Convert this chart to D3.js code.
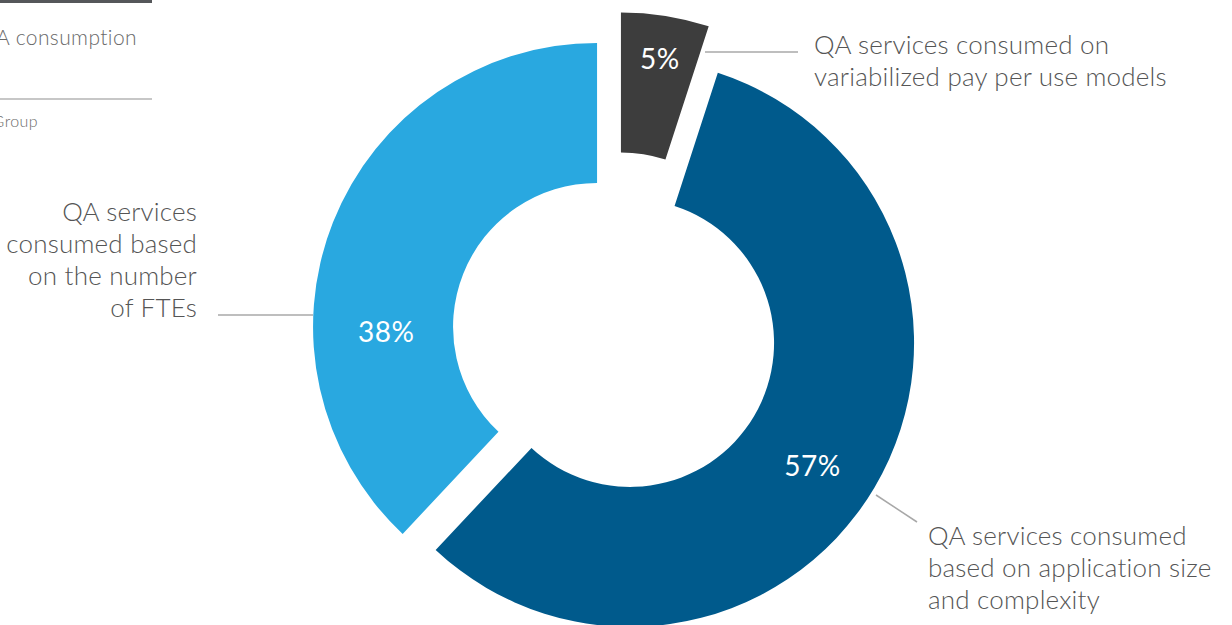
<!DOCTYPE html>
<html>
<head>
<meta charset="utf-8">
<script src="https://cdn.jsdelivr.net/npm/d3@7"></script>
<style>
  body { margin: 0; background: #fff; }
  svg { display: block; }
</style>
</head>
<body>
<svg width="1232" height="625"></svg>
<script>
var svg = d3.select("svg"),
    width = +svg.attr("width"),
    height = +svg.attr("height");

// data
var categories = ["variabilized pay per use", "application size and complexity", "number of FTEs"];
var shares = [5, 57, 38];
var colors = ["#3d3d3d", "#005a8c", "#29a8e0"];
var calloutText = [
  ["QA services consumed on", "variabilized pay per use models"],
  ["QA services consumed", "based on application size", "and complexity"],
  ["QA services", "consumed based", "on the number", "of FTEs"]
];

// layout
var cx = 615, cy = 334, rOuter = 284, rInner = 144;
var explode = [38, 17.5, 19.3];
var labelAngle = [9.3, 124, 268.6];   // degrees, clockwise from 12 o'clock
var labelRadius = [241, 220, 211];

var pie = d3.pie().sort(null).value(function(d) { return d; });
var arcs = pie(shares);
var arc = d3.arc().innerRadius(rInner).outerRadius(rOuter);

// header fragments cut off at the left edge
svg.append("rect").attr("x", 0).attr("y", 0).attr("width", 152).attr("height", 3).attr("fill", "#55575a");
svg.append("text")
    .attr("x", 137).attr("y", 45)
    .attr("text-anchor", "end")
    .style("font-family", "Lato, sans-serif").style("font-weight", 300)
    .style("font-size", "21px").style("letter-spacing", "0.4px").attr("fill", "#6a6a6a")
    .text("QA consumption");
svg.append("line").attr("x1", 0).attr("x2", 152).attr("y1", 99).attr("y2", 99)
    .attr("stroke", "#b5b5b5").attr("stroke-width", 1.5);
svg.append("text")
    .attr("x", 38).attr("y", 127)
    .attr("text-anchor", "end")
    .style("font-family", "Lato, sans-serif").style("font-weight", 300)
    .style("font-size", "16px").style("letter-spacing", "0.4px").attr("fill", "#6a6a6a")
    .text("Source: Everest Group");

var slice = svg.append("g").selectAll("g")
    .data(arcs)
  .enter().append("g")
    .attr("transform", function(d, i) {
      var mid = (d.startAngle + d.endAngle) / 2;
      var x = cx + explode[i] * Math.sin(mid),
          y = cy - explode[i] * Math.cos(mid);
      return "translate(" + x + "," + y + ")";
    });

slice.append("path")
    .attr("d", arc)
    .attr("fill", function(d, i) { return colors[i]; });

slice.append("text")
    .attr("transform", function(d, i) {
      var a = labelAngle[i] * Math.PI / 180;
      return "translate(" + (labelRadius[i] * Math.sin(a)) + "," + (-labelRadius[i] * Math.cos(a)) + ")";
    })
    .attr("text-anchor", "middle")
    .attr("dy", "0.36em")
    .style("font-family", "Lato, sans-serif")
    .style("font-size", "28px")
    .style("letter-spacing", "0.5px")
    .attr("fill", "#fff")
    .text(function(d) { return d.data + "%"; });

// callouts
var callouts = [
  { line: [[705, 52], [798, 52]], x: 814, y: 54, anchor: "start" },
  { line: [[876, 495], [917, 522]], x: 928, y: 545, anchor: "start" },
  { line: [[218, 315], [313, 315]], x: 197, y: 221, anchor: "end" }
];

var co = svg.append("g").selectAll("g")
    .data(callouts)
  .enter().append("g");

co.append("path")
    .attr("d", function(d) { return d3.line()(d.line); })
    .attr("stroke", "#a8a8a8")
    .attr("stroke-width", 1.5)
    .attr("fill", "none");

co.append("text")
    .attr("x", function(d) { return d.x; })
    .attr("y", function(d) { return d.y; })
    .attr("text-anchor", function(d) { return d.anchor; })
    .style("font-family", "Lato, sans-serif")
    .style("font-weight", 300)
    .style("font-size", "26px")
    .style("letter-spacing", "0.2px")
    .attr("fill", "#555")
    .each(function(d, i) {
      var t = d3.select(this);
      calloutText[i].forEach(function(s, k) {
        t.append("tspan").attr("x", d.x).attr("dy", k === 0 ? 0 : 32).text(s);
      });
    });
</script>
</body>
</html>
